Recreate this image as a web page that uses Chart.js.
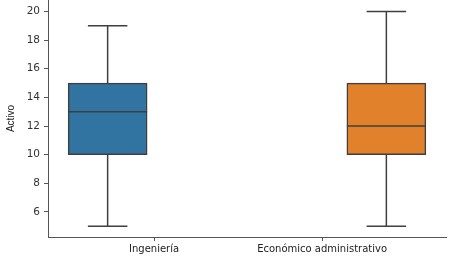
<!DOCTYPE html>
<html>
<head>
<meta charset="utf-8">
<script src="https://cdn.jsdelivr.net/npm/chart.js@4"></script>
<style>
html,body{margin:0;padding:0;background:#fff;}
canvas{display:block;}
</style>
</head>
<body>
<canvas id="c" width="449" height="260"></canvas>
<script>
const categories = ['Ingeniería', 'Económico administrativo'];
const q1 = [10, 10];
const q3 = [15, 15];
const medians = [13, 12];
const whiskerLow = [5, 5];
const whiskerHigh = [19, 20];
const yTicks = [6, 8, 10, 12, 14, 16, 18, 20];
const yLabel = 'Activo';

const boxColors = ['#3274a1', '#e1812c'];
const lineColor = '#3f3f3f';

const boxPlugin = {
  id: 'boxParts',
  afterDatasetsDraw(chart) {
    const ctx = chart.ctx;
    const y = chart.scales.y;
    const meta = chart.getDatasetMeta(0);
    ctx.save();
    ctx.strokeStyle = lineColor;
    ctx.lineWidth = 1.5;
    meta.data.forEach((bar, i) => {
      const cx = bar.x;
      const half = bar.width / 2;
      ctx.beginPath();
      ctx.moveTo(cx - half, y.getPixelForValue(medians[i]));
      ctx.lineTo(cx + half, y.getPixelForValue(medians[i]));
      ctx.moveTo(cx, y.getPixelForValue(q3[i]));
      ctx.lineTo(cx, y.getPixelForValue(whiskerHigh[i]));
      ctx.moveTo(cx - half / 2, y.getPixelForValue(whiskerHigh[i]));
      ctx.lineTo(cx + half / 2, y.getPixelForValue(whiskerHigh[i]));
      ctx.moveTo(cx, y.getPixelForValue(q1[i]));
      ctx.lineTo(cx, y.getPixelForValue(whiskerLow[i]));
      ctx.moveTo(cx - half / 2, y.getPixelForValue(whiskerLow[i]));
      ctx.lineTo(cx + half / 2, y.getPixelForValue(whiskerLow[i]));
      ctx.stroke();
    });
    ctx.restore();
  }
};

new Chart(document.getElementById('c'), {
  type: 'bar',
  data: {
    datasets: [{
      data: categories.map((c, i) => ({ x: i, y: [q1[i], q3[i]] })),
      backgroundColor: boxColors,
      borderColor: lineColor,
      borderWidth: 1.5,
      borderSkipped: false,
      barThickness: 79
    }]
  },
  options: {
    responsive: false,
    animation: false,
    layout: { padding: { top: 0, right: 3, left: 0, bottom: 0 } },
    plugins: { legend: { display: false }, tooltip: { enabled: false } },
    scales: {
      x: {
        type: 'linear',
        min: -0.214,
        max: 1.214,
        offset: false,
        afterBuildTicks: s => { s.ticks = [{ value: 0.1665 }, { value: 0.7695 }]; },
        afterFit: s => { s.height = 23; s.paddingLeft = 0; s.paddingRight = 0; },
        ticks: {
          callback: (v, i) => categories[i],
          autoSkip: false,
          maxRotation: 0,
          padding: 2,
          color: '#222',
          font: { family: 'DejaVu Sans', size: 10 }
        },
        grid: { drawOnChartArea: false, offset: false, tickLength: 4, color: '#555' },
        border: { color: '#555', width: 1 }
      },
      y: {
        min: 4.25,
        max: 20.8,
        afterBuildTicks: s => { s.ticks = yTicks.map(v => ({ value: v })); },
        afterFit: s => { s.width = 48; s.paddingTop = 0; s.paddingBottom = 0; },
        ticks: {
          padding: 4,
          color: '#333',
          font: { family: 'DejaVu Sans', size: 10.5 }
        },
        grid: { drawOnChartArea: false, tickLength: 4, color: '#555' },
        border: { color: '#555', width: 1 },
        title: {
          display: true,
          text: yLabel,
          padding: { top: 5, bottom: 0 },
          color: '#222',
          font: { family: 'Liberation Sans', size: 10 }
        }
      }
    }
  },
  plugins: [boxPlugin]
});
</script>
</body>
</html>
